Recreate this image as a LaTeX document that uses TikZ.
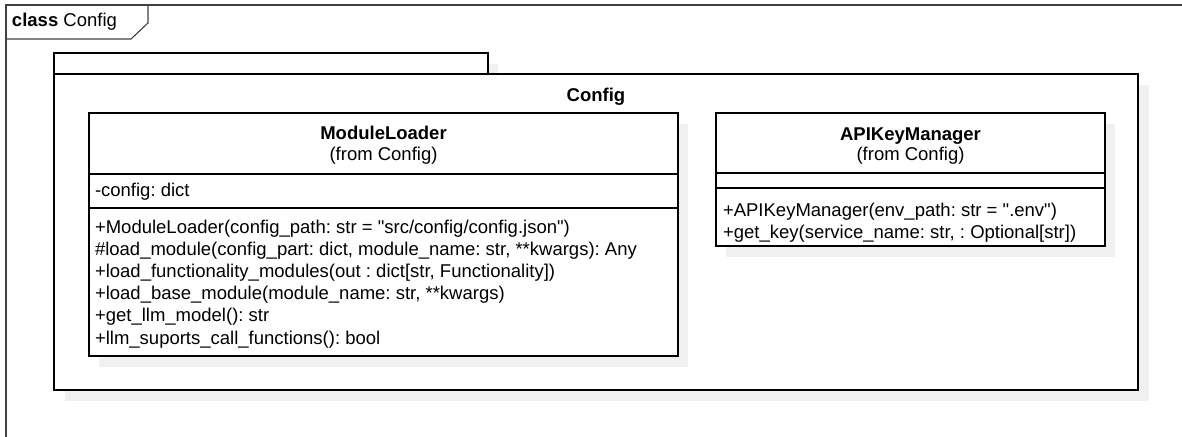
\documentclass[tikz,border=0pt]{standalone}
\usepackage{fontspec}
\setmainfont{Liberation Sans}
\definecolor{shadowgray}{HTML}{F0F0F0}
\definecolor{framegray}{HTML}{404040}
\frenchspacing
\begin{document}
\begin{tikzpicture}[x=1pt,y=-1pt,
  frameline/.style={draw=framegray,line width=1.1pt},
  shadowbox/.style={fill=shadowgray,draw=none,inner sep=0pt,outer sep=0pt},
  umlbox/.style={draw=black,line width=1.3pt,fill=white,inner sep=0pt,outer sep=0pt},
  sepline/.style={draw=black,line width=1.1pt},
  txt/.style={inner sep=0pt,outer sep=0pt,font=\fontsize{18.5}{22}\selectfont\frenchspacing},
  btxt/.style={txt,font=\fontsize{18.5}{22}\selectfont\bfseries}]
\useasboundingbox (0,0) rectangle (1182,436);
% outer frame
\draw[frameline] (1195,5) -- (6,5) -- (6,450);
\draw[frameline] (6,39) -- (131,39) -- (148,23) -- (148,5);
\node[txt,anchor=base west] (framelbl) at (12,26.5) {\textbf{class} Config};
% package shadows
\node[shadowbox,minimum width=434pt,minimum height=21pt,anchor=north west] (tabsh) at (64,64) {};
\node[shadowbox,minimum width=1084pt,minimum height=316pt,anchor=north west] (pkgsh) at (65,85) {};
% package
\node[umlbox,minimum width=434pt,minimum height=21pt,anchor=north west] (tab) at (54,53) {};
\node[umlbox,minimum width=1084pt,minimum height=316pt,anchor=north west] (pkg) at (54,74) {};
\node[btxt,anchor=base] (pkgname) at (596,101) {Config};
% class shadows
\node[shadowbox,minimum width=589pt,minimum height=243pt,anchor=north west] (mlsh) at (99,124) {};
\node[shadowbox,minimum width=389pt,minimum height=133pt,anchor=north west] (apish) at (726,124) {};
% ModuleLoader
\node[umlbox,minimum width=589pt,minimum height=243pt,anchor=north west] (ml) at (89,113) {};
\draw[sepline] (ml.west |- 0,174) -- (ml.east |- 0,174);
\draw[sepline] (ml.west |- 0,208) -- (ml.east |- 0,208);
\node[btxt,anchor=base] (mlname) at (383.5,139.5) {ModuleLoader};
\node[txt,anchor=base] (mlfrom) at (383.5,160) {(from Config)};
\node[txt,anchor=base west] (mlattr) at (95,196) {-config: dict};
\node[txt,anchor=base west] (mlm1) at (95,233) {+ModuleLoader(config\_path: str = \textquotedbl src/config/config.json\textquotedbl)};
\node[txt,anchor=base west] (mlm2) at (95,255.2) {\#load\_module(config\_part: dict, module\_name: str, **kwargs): Any};
\node[txt,anchor=base west] (mlm3) at (95,277.4) {+load\_functionality\_modules(out : dict[str, Functionality])};
\node[txt,anchor=base west] (mlm4) at (95,299.6) {+load\_base\_module(module\_name: str, **kwargs)};
\node[txt,anchor=base west] (mlm5) at (95,321.8) {+get\_llm\_model(): str};
\node[txt,anchor=base west] (mlm6) at (95,344) {+llm\_suports\_call\_functions(): bool};
% APIKeyManager
\node[umlbox,minimum width=389pt,minimum height=133pt,anchor=north west] (api) at (716,113) {};
\draw[sepline] (api.west |- 0,173) -- (api.east |- 0,173);
\draw[sepline] (api.west |- 0,188) -- (api.east |- 0,188);
\node[btxt,anchor=base] (apiname) at (910.5,140) {APIKeyManager};
\node[txt,anchor=base] (apifrom) at (910.5,160) {(from Config)};
\node[txt,anchor=base west] (apim1) at (723,216) {+APIKeyManager(env\_path: str = \textquotedbl.env\textquotedbl)};
\node[txt,anchor=base west] (apim2) at (723,238) {+get\_key(service\_name: str, : Optional[str])};
\end{tikzpicture}
\end{document}
